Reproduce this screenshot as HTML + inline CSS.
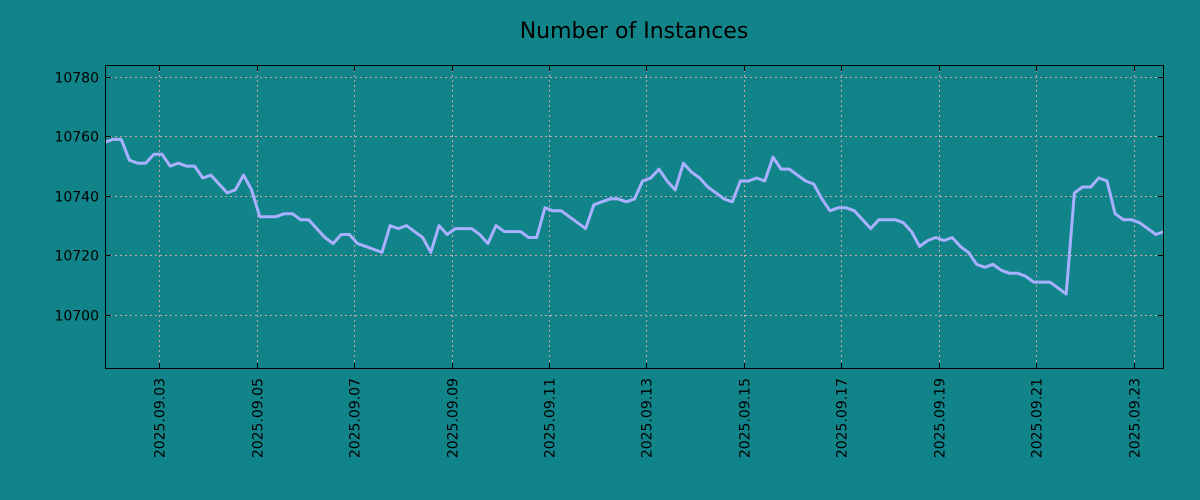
<!DOCTYPE html>
<html><head><meta charset="utf-8"><style>
body{margin:0;background:#108488;}
svg{display:block;font-family:"DejaVu Sans","Liberation Sans",sans-serif;}
</style></head><body>
<svg id="chart" width="1200" height="500" viewBox="0 0 1200 500">
<rect width="1200" height="500" fill="#108488"/>
<text x="634" y="38" font-size="22" text-anchor="middle" fill="#000">Number of Instances</text>
<g id="grid"></g>
<g id="axes"></g>
<path id="line" fill="none" stroke="#a8b0ff" stroke-width="3" stroke-linejoin="round"/>
<rect x="105.5" y="65.5" width="1058" height="303" fill="none" stroke="#000" stroke-width="1"/>
</svg>
<script>
const values=[10758,10759,10759,10752,10751,10751,10754,10754,10750,10751,10750,10750,10746,10747,10744,10741,10742,10747,10742,10733,10733,10733,10734,10734,10732,10732,10729,10726,10724,10727,10727,10724,10723,10722,10721,10730,10729,10730,10728,10726,10721,10730,10727,10729,10729,10729,10727,10724,10730,10728,10728,10728,10726,10726,10736,10735,10735,10733,10731,10729,10737,10738,10739,10739,10738,10739,10745,10746,10749,10745,10742,10751,10748,10746,10743,10741,10739,10738,10745,10745,10746,10745,10753,10749,10749,10747,10745,10744,10739,10735,10736,10736,10735,10732,10729,10732,10732,10732,10731,10728,10723,10725,10726,10725,10726,10723,10721,10717,10716,10717,10715,10714,10714,10713,10711,10711,10711,10709,10707,10741,10743,10743,10746,10745,10734,10732,10732,10731,10729,10727,10728];
const xTickDays=[3,5,7,9,11,13,15,17,19,21,23];
const xTickLabels=["2025.09.03","2025.09.05","2025.09.07","2025.09.09","2025.09.11","2025.09.13","2025.09.15","2025.09.17","2025.09.19","2025.09.21","2025.09.23"];
const yTicks=[10700,10720,10740,10760,10780];
const dayStart=1.89, dayEnd=23.62;
const L=105,R=1164,T=65,B=369;
const yMin=10681.8,yMax=10784;
const sx=d=>L+(d-dayStart)/(dayEnd-dayStart)*(R-L);
const sy=v=>B-(v-yMin)/(yMax-yMin)*(B-T);
const NS="http://www.w3.org/2000/svg";
const grid=document.getElementById('grid'),axes=document.getElementById('axes');
function mk(tag,attrs,parent){const e=document.createElementNS(NS,tag);for(const k in attrs)e.setAttribute(k,attrs[k]);parent.appendChild(e);return e;}
yTicks.forEach(v=>{
 const y=Math.round(sy(v))+0.5;
 const g=mk('line',{x1:L,x2:R,y1:y,y2:y,stroke:'#c8a8a8','stroke-width':1,'stroke-dasharray':'2,3'},grid);
 
 
 const t1=mk('line',{x1:L,x2:L+6,y1:y,y2:y,stroke:'#000'},axes);
 
 
 const t2=mk('line',{x1:R-6,x2:R,y1:y,y2:y,stroke:'#000'},axes);
 
 
 const tx=mk('text',{x:L-6,y:y+5,'font-size':14,'text-anchor':'end',fill:'#000'},axes);
 tx.textContent=v;
 
 
});
xTickDays.forEach((d,i)=>{
 const x=Math.round(sx(d))+0.5;
 const g=mk('line',{x1:x,x2:x,y1:T,y2:B,stroke:'#c8a8a8','stroke-width':1,'stroke-dasharray':'2,3'},grid);
 
 
 const t1=mk('line',{x1:x,x2:x,y1:B-6,y2:B,stroke:'#000'},axes);
 
 
 const t2=mk('line',{x1:x,x2:x,y1:T,y2:T+6,stroke:'#000'},axes);
 
 
 const tx=mk('text',{x:0,y:0,'font-size':14,'text-anchor':'end',fill:'#000',transform:`translate(${x+5},${B+9}) rotate(-90)`},axes);
 tx.textContent=xTickLabels[i];
 
 
});
const n=values.length;
let d='';
values.forEach((v,i)=>{const day=dayStart+i*(dayEnd-dayStart)/(n-1);d+=(i?'L':'M')+sx(day).toFixed(1)+','+sy(v).toFixed(1);});
document.getElementById('line').setAttribute('d',d);
</script>
</body></html>
